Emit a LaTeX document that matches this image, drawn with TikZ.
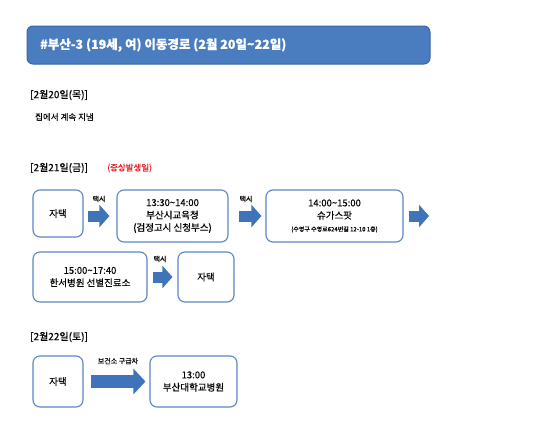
\documentclass[tikz,border=0pt]{standalone}
\usepackage{fontspec}
\setmainfont{Noto Sans CJK KR}[FakeBold=0.4]
\usetikzlibrary{arrows.meta}
\definecolor{hdrblue}{HTML}{4A7DBF}
\definecolor{hdrdark}{HTML}{3A66A3}
\definecolor{boxblue}{HTML}{5B86C4}
\definecolor{arrblue}{HTML}{3F74BA}
\definecolor{symred}{HTML}{E8202A}
\tikzset{
  x=1pt, y=-1pt,
  box/.style={draw=boxblue, line width=1.1pt, rounded corners=7pt, fill=white, inner sep=0pt, align=center,
    font=\fontsize{9.5}{12.5}\selectfont},
  blockarr/.style={draw=arrblue, line width=11pt, -{Triangle[width=22pt,length=10pt]}},
  bigarr/.style={draw=arrblue, line width=13pt, -{Triangle[width=25pt,length=12pt]}},
  lbl/.style={font=\fontsize{7}{8}\selectfont, inner sep=0pt},
  day/.style={anchor=west, inner sep=0pt, font=\fontsize{10}{12}\selectfont},
}
\begin{document}
\begin{tikzpicture}
\useasboundingbox (0,0) rectangle (550,432);
% header
\node[draw=hdrdark, fill=hdrblue, line width=1pt, rounded corners=6pt, minimum width=403pt, minimum height=38pt, inner sep=0pt] (hdr) at (228.5,45) {};
\node[anchor=west, text=white, font=\fontsize{12.5}{14}\selectfont\bfseries, inner sep=0pt] (title) at (40,45) {\#부산-3 (19세, 여) 이동경로 (2월 20일\textasciitilde22일)};
% day 1
\node[day] (d1) at (30,95) {[2월20일(목)]};
\node[day, font=\fontsize{8.5}{10}\selectfont] (d1t) at (35,117) {집에서 계속 지냄};
% day 2
\node[day] (d2) at (30,168) {[2월21일(금)]};
\node[day, text=symred, font=\fontsize{8.5}{10}\selectfont] (d2s) at (107,168) {(증상발생일)};
\node[box, minimum width=50pt, minimum height=47pt] (h1) at (58,213.5) {자택};
\node[box, minimum width=111pt, minimum height=52pt] (b2) at (172.5,216) {13:30\textasciitilde14:00\\부산시교육청\\(검정고시 신청부스)};
\node[box, minimum width=137pt, minimum height=52pt] (b3) at (334.5,216) {14:00\textasciitilde15:00\\슈가스팟\\{\fontsize{6}{8}\selectfont(수영구 수영로624번길 12-10 1층)}};
\coordinate (endr) at (429,216);
\draw[blockarr] ([xshift=4pt]h1.east |- 0,216) -- ([xshift=-7pt]b2.west);
\draw[blockarr] ([xshift=10pt]b2.east) -- ([xshift=-4pt]b3.west);
\draw[blockarr] ([xshift=5pt]b3.east) -- (endr);
\node[lbl] (t1) at (99,199) {택시};
\node[lbl] (t2) at (246,199) {택시};
\node[box, minimum width=114pt, minimum height=50pt] (b4) at (90,277) {15:00\textasciitilde17:40\\한서병원 선별진료소};
\node[box, minimum width=56pt, minimum height=50pt] (h2) at (206,277) {자택};
\draw[blockarr] ([xshift=5pt]b4.east) -- ([xshift=-5pt]h2.west);
\node[lbl] (t3) at (160,259) {택시};
% day 3
\node[day] (d3) at (30,337) {[2월22일(토)]};
\node[box, minimum width=50pt, minimum height=51pt] (h3) at (58,381.5) {자택};
\node[box, minimum width=87pt, minimum height=51pt] (b5) at (193.5,381.5) {13:00\\부산대학교병원};
\draw[bigarr] ([xshift=7pt]h3.east) -- ([xshift=-4pt]b5.west);
\node[lbl] (t4) at (118,361) {보건소 구급차};
\end{tikzpicture}
\end{document}
